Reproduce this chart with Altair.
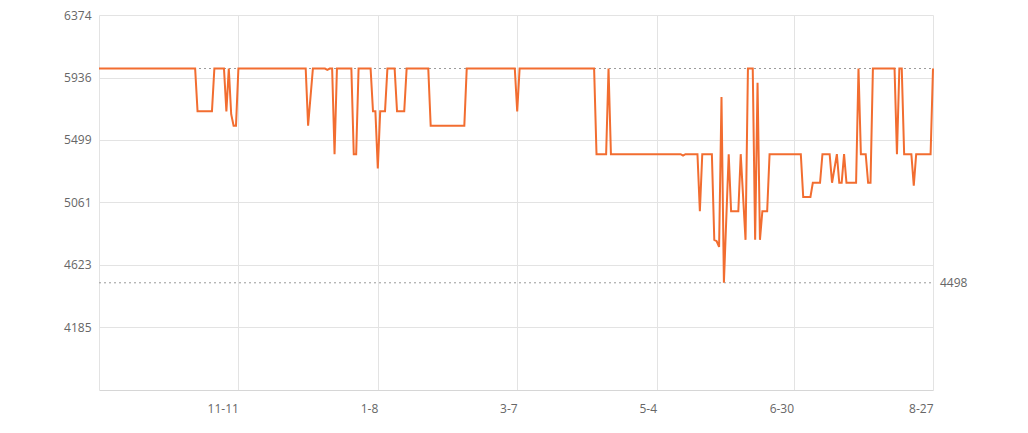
import altair as alt
import pandas as pd

dates = [
    "2022-09-14", "2022-10-24", "2022-10-25", "2022-10-31", "2022-11-01", "2022-11-05",
    "2022-11-06", "2022-11-07", "2022-11-08", "2022-11-09", "2022-11-10", "2022-11-11",
    "2022-12-09", "2022-12-10", "2022-12-12", "2022-12-17", "2022-12-18", "2022-12-19",
    "2022-12-20", "2022-12-21", "2022-12-22", "2022-12-28", "2022-12-29", "2022-12-30",
    "2022-12-31", "2023-01-05", "2023-01-06", "2023-01-07", "2023-01-08", "2023-01-09",
    "2023-01-11", "2023-01-12", "2023-01-15", "2023-01-16", "2023-01-19", "2023-01-20",
    "2023-01-29", "2023-01-30", "2023-02-13", "2023-02-14", "2023-03-06", "2023-03-07",
    "2023-03-08", "2023-04-08", "2023-04-09", "2023-04-13", "2023-04-14", "2023-04-15",
    "2023-05-14", "2023-05-15", "2023-05-16", "2023-05-21", "2023-05-22", "2023-05-23",
    "2023-05-27", "2023-05-28", "2023-05-29", "2023-05-30", "2023-05-31", "2023-06-01",
    "2023-06-03", "2023-06-04", "2023-06-07", "2023-06-08", "2023-06-10", "2023-06-11",
    "2023-06-13", "2023-06-14", "2023-06-15", "2023-06-16", "2023-06-17", "2023-06-19",
    "2023-06-20", "2023-07-03", "2023-07-04", "2023-07-07", "2023-07-08", "2023-07-11",
    "2023-07-12", "2023-07-15", "2023-07-16", "2023-07-18", "2023-07-19", "2023-07-20",
    "2023-07-21", "2023-07-22", "2023-07-26", "2023-07-27", "2023-07-28", "2023-07-30",
    "2023-07-31", "2023-08-01", "2023-08-02", "2023-08-11", "2023-08-12", "2023-08-13",
    "2023-08-14", "2023-08-15", "2023-08-18", "2023-08-19", "2023-08-20", "2023-08-26",
    "2023-08-27",
]
prices = [
    5999, 5999, 5699, 5699, 5999, 5999,
    5699, 5999, 5679, 5599, 5599, 5999,
    5999, 5599, 5999, 5999, 5989, 5999,
    5999, 5399, 5999, 5999, 5399, 5399,
    5999, 5999, 5699, 5699, 5299, 5699,
    5699, 5999, 5999, 5699, 5699, 5999,
    5999, 5599, 5599, 5999, 5999, 5699,
    5999, 5999, 5399, 5399, 5999, 5399,
    5399, 5389, 5399, 5399, 4999, 5399,
    5399, 4799, 4789, 4749, 5799, 4498,
    5399, 4999, 4999, 5399, 4799, 5999,
    5999, 4799, 5899, 4799, 4999, 4999,
    5399, 5399, 5099, 5099, 5199, 5199,
    5399, 5399, 5199, 5399, 5199, 5199,
    5399, 5199, 5199, 5999, 5399, 5399,
    5199, 5199, 5999, 5999, 5399, 5999,
    5999, 5399, 5399, 5179, 5399, 5399,
    5999,
]

y_ticks = [4185, 4623, 5061, 5499, 5936, 6374]
y_domain = [3747, 6374]
x_tick_dates = [(2022, 11, 11), (2023, 1, 8), (2023, 3, 7), (2023, 5, 4), (2023, 6, 30), (2023, 8, 27)]
x_domain = [(2022, 9, 14), (2023, 8, 27)]
max_price = 5999
min_price = 4498

df = pd.DataFrame({"date": dates, "price": prices})
marks_df = pd.DataFrame({"price": [max_price, min_price], "label": ["", str(min_price)]})

FONT = "Open Sans"
GRID = "#e3e3e3"

def dt(t):
    return alt.DateTime(year=t[0], month=t[1], date=t[2], utc=True)

x_enc = alt.X(
    "date:T",
    scale=alt.Scale(type="utc", domain=[dt(x_domain[0]), dt(x_domain[1])]),
    axis=alt.Axis(
        values=[dt(t) for t in x_tick_dates],
        labelExpr="utcFormat(datum.value, '%-m-%-d')",
        labelAlign="right",
        labelPadding=13,
        ticks=False,
        grid=True,
        gridColor=GRID,
        domainColor="#d6d6d6",
        title=None,
    ),
)
y_scale = alt.Scale(domain=y_domain, zero=False, nice=False)

line = alt.Chart(df).mark_line(color="#f26d30", strokeWidth=2).encode(
    x=x_enc,
    y=alt.Y(
        "price:Q",
        scale=y_scale,
        axis=alt.Axis(
            values=y_ticks,
            format="d",
            ticks=False,
            labelPadding=8,
            grid=True,
            gridColor=GRID,
            domainColor=GRID,
            title=None,
        ),
    ),
)

rules = alt.Chart(marks_df).mark_rule(color="#9a9a9a", strokeDash=[2, 3], strokeWidth=1).encode(
    y=alt.Y("price:Q", scale=y_scale),
    x=alt.value(0),
    x2=alt.value(834),
)

labels = alt.Chart(marks_df).mark_text(
    align="left", baseline="middle", fontSize=12, font=FONT, color="#666666"
).encode(
    y=alt.Y("price:Q", scale=y_scale),
    x=alt.value(841),
    text="label:N",
)

chart = (
    alt.layer(rules, line, labels)
    .properties(
        width=834,
        height=375,
        autosize=alt.AutoSizeParams(type="none"),
        padding={"left": 91, "top": 7, "right": 80, "bottom": 40},
        background="white",
    )
    .configure_view(strokeWidth=0)
    .configure_axis(labelFont=FONT, labelFontSize=12, labelColor="#666666")
)

chart.save("out.html", embed_options={"renderer": "svg", "actions": False})
